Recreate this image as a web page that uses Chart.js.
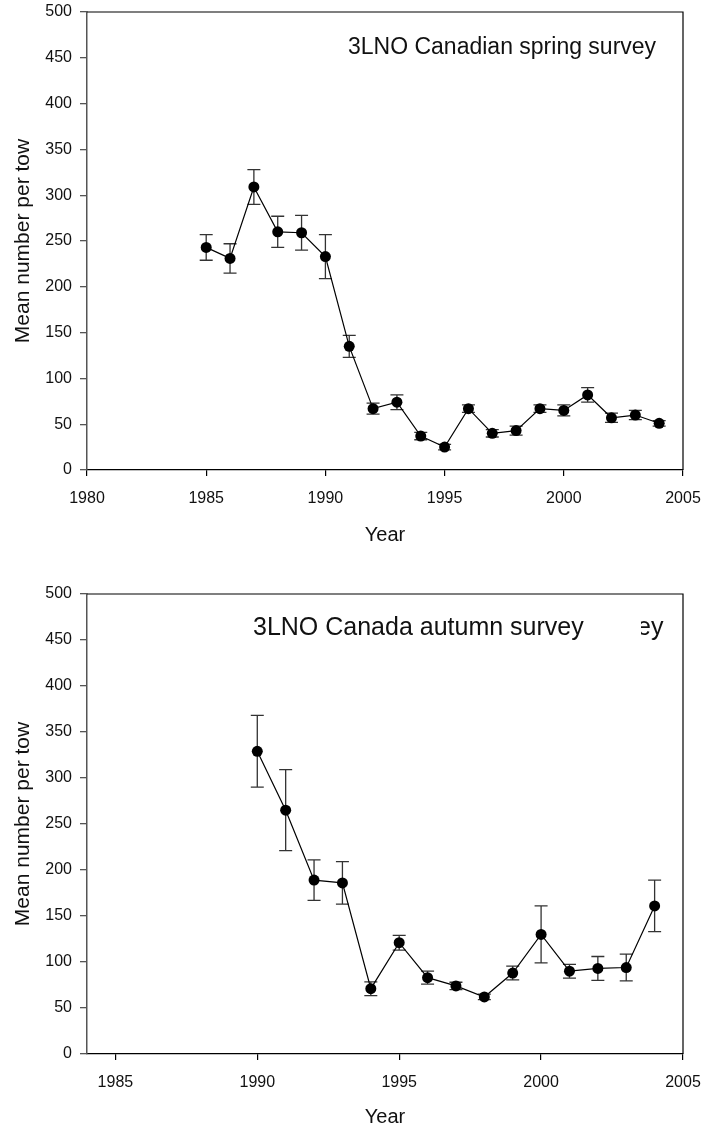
<!DOCTYPE html>
<html>
<head>
<meta charset="utf-8">
<script src="https://cdn.jsdelivr.net/npm/chart.js@4.4.1/dist/chart.umd.min.js"></script>
<style>
  html, body { margin: 0; padding: 0; background: #fff; overflow: hidden; }
  canvas { position: absolute; left: 0; }
  #spring-chart { top: 0; }
  #autumn-chart { top: 582px; }
</style>
</head>
<body>
<canvas id="spring-chart" width="705" height="552"></canvas>
<canvas id="autumn-chart" width="705" height="552"></canvas>
<script>
// Spring survey (1985-2004)
const springYears = [1985, 1986, 1987, 1988, 1989, 1990, 1991, 1992, 1993, 1994,
  1995, 1996, 1997, 1998, 1999, 2000, 2001, 2002, 2003, 2004];
const springMean = [243, 231, 309, 260, 259, 233, 135, 67, 74, 37,
  25, 67, 40, 43, 67, 65, 82, 57, 60, 51];
const springErr = [14, 16, 19, 17, 19, 24, 12, 6, 8, 4,
  3, 4, 4, 5, 4, 6, 8, 5, 5, 3];
const springXTicks = [1980, 1985, 1990, 1995, 2000, 2005];

// Autumn survey (1990-2004)
const autumnYears = [1990, 1991, 1992, 1993, 1994, 1995, 1996, 1997,
  1998, 1999, 2000, 2001, 2002, 2003, 2004];
const autumnMean = [329, 265, 189, 186, 71, 121, 83, 74,
  62, 88, 130, 90, 93, 94, 161];
const autumnErr = [39, 44, 22, 23, 7.5, 8, 7, 4,
  3, 7.5, 31, 7.5, 13, 14.5, 28];
const autumnXTicks = [1985, 1990, 1995, 2000, 2005];

const yTicks = [0, 50, 100, 150, 200, 250, 300, 350, 400, 450, 500];

const FONT = "'Liberation Sans', Arial, sans-serif";
Chart.defaults.font.family = FONT;
Chart.defaults.color = "#111";

// error bars under the points
const errorBarPlugin = {
  id: "errorBars",
  beforeDatasetsDraw(chart, args, opts) {
    const { ctx, scales: { x, y } } = chart;
    const pts = chart.data.datasets[0].data;
    ctx.save();
    ctx.strokeStyle = "#333";
    ctx.lineWidth = 1.3;
    pts.forEach((p, i) => {
      const err = opts.errors[i];
      const px = x.getPixelForValue(p.x);
      const top = y.getPixelForValue(p.y + err);
      const bot = y.getPixelForValue(p.y - err);
      ctx.beginPath();
      ctx.moveTo(px, top); ctx.lineTo(px, bot);
      ctx.moveTo(px - 6.5, top); ctx.lineTo(px + 6.5, top);
      ctx.moveTo(px - 6.5, bot); ctx.lineTo(px + 6.5, bot);
      ctx.stroke();
    });
    ctx.restore();
  },
};

// top + right border of the plot box, and the label inside it
const framePlugin = {
  id: "frame",
  afterDraw(chart, args, opts) {
    const { ctx, chartArea: a } = chart;
    ctx.save();
    ctx.strokeStyle = "#000";
    ctx.lineWidth = 1.2;
    ctx.beginPath();
    ctx.moveTo(a.left, a.top);
    ctx.lineTo(a.right, a.top);
    ctx.lineTo(a.right, a.bottom);
    ctx.stroke();

    ctx.fillStyle = "#111";
    ctx.font = opts.size + "px " + FONT;
    ctx.textBaseline = "middle";
    ctx.textAlign = "left";
    ctx.fillText(opts.text, a.left + opts.dx, a.top + opts.dy);
    if (opts.ghost) {
      // leftover piece of an older label in the original figure
      ctx.beginPath();
      ctx.rect(a.left + opts.ghost.clip, a.top, 200, 60);
      ctx.clip();
      ctx.fillText(opts.ghost.text, a.left + opts.ghost.dx, a.top + opts.dy);
    }
    ctx.restore();
  },
};

function createSurveyChart(id, years, means, errs, xTicks, xMin, xAxisHeight, label) {
  const ctx = document.getElementById(id);
  return new Chart(ctx, {
    type: "line",
    data: {
      datasets: [
        {
          data: years.map((yr, i) => ({ x: yr, y: means[i] })),
          borderColor: "#000",
          borderWidth: 1.2,
          pointRadius: 5.5,
          pointBackgroundColor: "#000",
          pointBorderColor: "#000",
          pointBorderWidth: 0,
          tension: 0,
        },
      ],
    },
    options: {
      responsive: false,
      animation: false,
      devicePixelRatio: 1,
      events: [],
      layout: { padding: { top: 12, right: 22, left: 0, bottom: 0 } },
      scales: {
        x: {
          type: "linear",
          min: xMin,
          max: 2005,
          afterBuildTicks: (scale) => {
            scale.ticks = xTicks.map((v) => ({ value: v }));
          },
          afterFit: (scale) => {
            scale.height = xAxisHeight;
            scale.paddingLeft = 0;
            scale.paddingRight = 0;
          },
          border: { color: "#000", width: 1.2 },
          grid: { drawOnChartArea: false, tickLength: 6, color: "#000", lineWidth: 1.2 },
          ticks: {
            autoSkip: false,
            maxRotation: 0,
            padding: 13,
            color: "#111",
            font: { size: 16 },
            callback: (v) => String(v),
          },
          title: {
            display: true,
            text: "Year",
            color: "#111",
            font: { size: 20 },
            padding: { top: 0, bottom: 5 },
          },
        },
        y: {
          min: 0,
          max: 500,
          afterBuildTicks: (scale) => {
            scale.ticks = yTicks.map((v) => ({ value: v }));
          },
          afterFit: (scale) => {
            scale.width = 87;
            scale.paddingTop = 0;
            scale.paddingBottom = 0;
          },
          border: { color: "#555", width: 1.5 },
          grid: { drawOnChartArea: false, tickLength: 7, color: "#555", lineWidth: 1.3 },
          ticks: {
            padding: 8,
            color: "#111",
            font: { size: 16 },
          },
          title: {
            display: true,
            text: "Mean number per tow",
            color: "#111",
            font: { size: 21 },
            padding: { top: 11, bottom: 0 },
          },
        },
      },
      plugins: {
        legend: { display: false },
        tooltip: { enabled: false },
        errorBars: { errors: errs },
        frame: label,
      },
    },
    plugins: [errorBarPlugin, framePlugin],
  });
}

createSurveyChart("spring-chart", springYears, springMean, springErr, springXTicks, 1980, 82, {
  text: "3LNO Canadian spring survey", size: 23, dx: 261, dy: 36,
});

createSurveyChart("autumn-chart", autumnYears, autumnMean, autumnErr, autumnXTicks, 1984, 80, {
  text: "3LNO Canada autumn survey", size: 25, dx: 166, dy: 34,
  ghost: { text: "ey", dx: 550, clip: 554 },
});
</script>
</body>
</html>
